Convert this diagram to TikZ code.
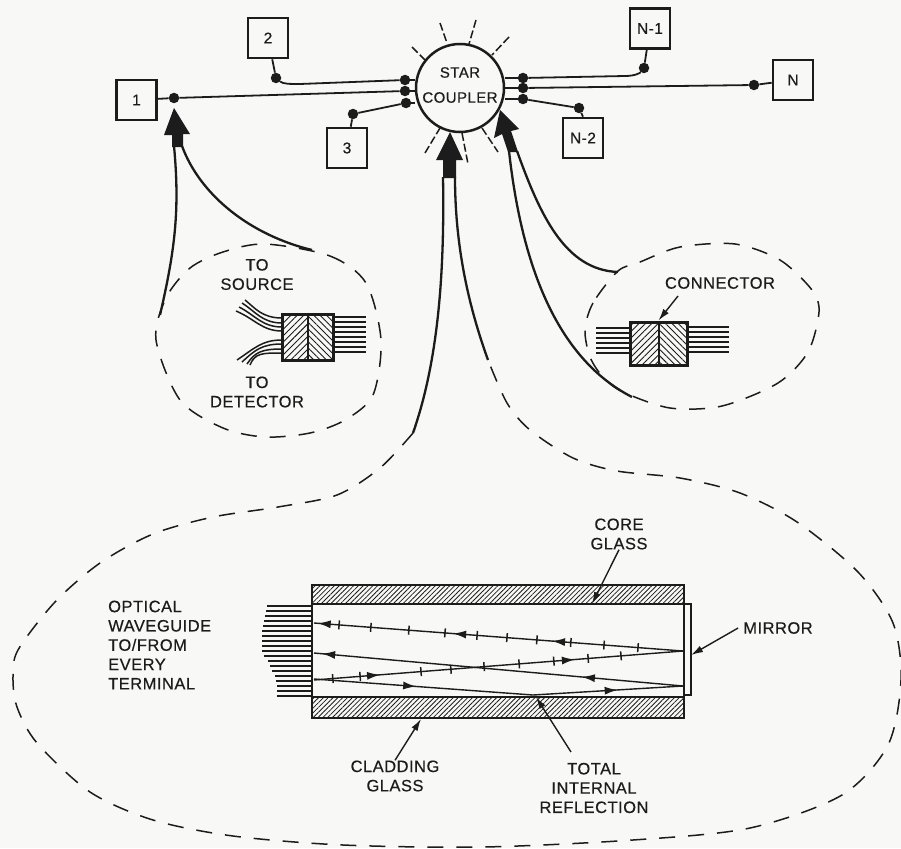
\documentclass[tikz,border=0pt]{standalone}
\usepackage{fontspec}
\setmainfont[LetterSpace=3,FakeBold=0.4]{Liberation Sans}
\usetikzlibrary{arrows.meta,patterns.meta,decorations.markings}
\definecolor{paper}{HTML}{F8F8F6}
\definecolor{inkc}{HTML}{1C1C1C}
\begin{document}
\begin{tikzpicture}[x=1pt, y=-1pt, >={Latex[length=12pt,width=7pt]}, color=inkc,
  termbox/.style={draw, line width=2.6pt, minimum size=40pt, inner sep=0pt, font=\fontsize{15.5}{18}\selectfont},
  junc/.style={circle, fill, inner sep=0pt, minimum size=10.5pt},
  wire/.style={line width=1.8pt},
  guide/.style={line width=2.3pt},
  dashline/.style={line width=1.5pt, dash pattern=on 16pt off 13pt},
  glowdash/.style={line width=1.5pt, dash pattern=on 8pt off 3pt},
  caption/.style={align=center, font=\fontsize{16.5}{19.3}\selectfont, inner sep=0pt},
  leader/.style={line width=1.4pt, ->},
  fibre/.style={line width=1.5pt},
  thinfibre/.style={line width=1.2pt},
  connbox/.style={draw, line width=3pt, inner sep=0pt},
  hatchne/.style={pattern={Lines[angle=45,distance=4.5pt,line width=.9pt]}, pattern color=inkc},
  hatchnw/.style={pattern={Lines[angle=-45,distance=4.5pt,line width=.9pt]}, pattern color=inkc},
  hatchfine/.style={pattern={Lines[angle=45,distance=3.4pt,line width=.8pt]}, pattern color=inkc},
  ray/.style={line width=1.4pt},
  head at/.style={postaction={decorate, decoration={markings, mark=at position #1 with {\arrow{Latex[length=13pt,width=8pt]}}}}},
  tick at/.style={postaction={decorate, decoration={markings, mark=at position #1 with {\draw[line width=1.5pt] (0,-4.5) -- (0,4.5);}}}}]
\fill[paper] (0,0) rectangle (901,848);
\useasboundingbox (0,0) rectangle (901,848);
% star coupler and terminals
\node[circle, draw, line width=2.5pt, minimum size=88pt, inner sep=0pt] (star) at (460,88) {};
\node[caption, font=\fontsize{15}{25}\selectfont] (starlab) at (460,85) {STAR\\COUPLER};
\node[termbox] (box1) at (136.5,100) {1};
\node[termbox] (box2) at (268,38) {2};
\node[termbox] (box3) at (347,148) {3};
\node[termbox] (boxn1) at (650,28.5) {N-1};
\node[termbox] (boxn) at (793,80) {N};
\node[termbox] (boxn2) at (583,138) {N-2};
\node[junc] (dot1) at (174,98) {};
\node[junc] (dot2) at (276,78) {};
\node[junc] (dot3) at (353,114) {};
\node[junc] (dotn1) at (644,68) {};
\node[junc] (dotn) at (754,85) {};
\node[junc] (dotn2) at (579,108) {};
\node[junc] (jl1) at (405,80) {};
\node[junc] (jl2) at (405,91) {};
\node[junc] (jl3) at (406,103) {};
\node[junc] (jr1) at (523,78) {};
\node[junc] (jr2) at (523,88) {};
\node[junc] (jr3) at (523,99) {};
\draw[wire] (box1) -- (dot1) -- (jl2);
\draw[wire] (box2) -- (dot2) .. controls (283,84) and (290,84) .. (300,84) -- (jl1);
\draw[wire] (box3) -- (dot3) -- (jl3);
\draw[wire] (boxn1) -- (dotn1) .. controls (640,73) and (635,76) .. (625,76) -- (jr1);
\draw[wire] (boxn) -- (dotn) -- (jr2);
\draw[wire] (boxn2.north) -- (dotn2) -- (jr3);
\foreach \j in {jl1,jl2,jl3} \draw[wire] (\j) -- (\j -| star.west);
\foreach \j in {jr1,jr2,jr3} \draw[wire] (\j) -- (\j -| star.east);
% glow around the coupler
\draw[glowdash] (440,23) -- (447,43);
\draw[glowdash] (412,47) -- (425,60);
\draw[glowdash] (425,153) -- (440,128);
\draw[glowdash] (476,20) -- (469,44);
\draw[glowdash] (509,37) -- (492,55);
\draw[glowdash] (462,133) -- (468,164);
\draw[glowdash] (482,128) -- (498,152);
% big arrows
\fill (174,108) -- (190,134) -- (183,134) -- (183,147) -- (172,147) -- (172,135) -- (164,135) -- cycle;
\fill (450,132) -- (463,160) -- (456,160) -- (456,178) -- (443,178) -- (443,160) -- (436,160) -- cycle;
\fill (500,110) -- (519,129) -- (511,131) -- (518,152) -- (508,152) -- (502,134) -- (494,138) -- cycle;
\draw[guide] (174,146) .. controls (180,210) and (175,250) .. (160,315);
\draw[guide] (182,146) .. controls (200,195) and (250,235) .. (312,250);
\draw[guide] (443,177) .. controls (445,290) and (435,370) .. (413,433);
\draw[guide] (455,177) .. controls (455,250) and (470,310) .. (488,360);
\draw[guide] (509,151) .. controls (520,250) and (550,355) .. (632,397);
\draw[guide] (517,151) .. controls (540,215) and (565,270) .. (618,272);
% dashed blow-ups
\draw[dashline] plot[smooth cycle] coordinates {(265,244) (330,256) (366,283) (381,340) (373,395) (345,420) (310,433) (265,437) (223,428) (180,400) (156,340) (166,298) (190,268) (223,252)};
\draw[dashline] plot[smooth cycle] coordinates {(618,271) (593,303) (585,330) (590,357) (603,377) (623,392) (670,408) (722,406) (778,383) (808,352) (819,312) (812,290) (780,260) (735,244) (680,247) (640,262)};
\draw[dashline] plot[smooth] coordinates {(413,433) (380,468) (337,495) (278,507) (213,517) (153,534) (100,563) (55,602) (18,650) (13,677) (17,707) (37,743) (90,792) (153,820) (233,836) (343,845) (483,847) (633,840) (750,828) (842,795) (888,745) (901,680) (893,623) (858,572) (797,522) (740,493) (680,478) (617,471) (573,458) (530,430) (507,403) (488,360)};
% left connector
\draw[hatchne] (282,314) rectangle (308,360);
\draw[hatchnw] (308,314) rectangle (333,360);
\node[connbox, minimum width=51pt, minimum height=46pt] (lconn) at (307.5,337) {};
\draw[line width=2pt] (lconn.north) -- (lconn.south);
\foreach \y in {317,322,327,332,337,342,347,352} \draw[fibre] (333,\y) -- (366,\y);
\foreach \y/\ex/\ey in {318/245/300,323/242/303,327/239/307,331/236/311} \draw[fibre] (282,\y) .. controls (262,\y) and (255,{\ey+8}) .. (\ex,\ey);
\foreach \y/\ex/\ey in {340/237/360,344/242/362,349/247/364,353/250/365} \draw[fibre] (282,\y) .. controls (262,\y) and (255,{\ey-12}) .. (\ex,\ey);
\node[caption] (source) at (257,274.5) {TO\\SOURCE};
\node[caption] (detector) at (257,392) {TO\\DETECTOR};
% right connector
\draw[hatchne] (630,322) rectangle (658,365);
\draw[hatchnw] (658,322) rectangle (687,365);
\node[connbox, minimum width=57pt, minimum height=43pt] (rconn) at (658.5,343.5) {};
\draw[line width=2pt] (rconn.north) -- (rconn.south);
\foreach \y in {328,333,338,343,348,353} \draw[fibre] (596,\y) -- (630,\y);
\foreach \y in {327,332,337,342,347,352} \draw[fibre] (687,\y) -- (729,\y);
\node[caption] (connlab) at (720,283) {CONNECTOR};
\coordinate (connstart) at (678,296);
\draw[leader] (connstart) -- (rconn.north);
% waveguide
\foreach \y/\x in {606/267,611/266,616/265,621/264,626/263,631/262,636/262,641/262,646/262,651/262,656/264,661/268,666/270,671/272,676/275,681/276,686/277,691/277,696/277} \draw[thinfibre] (\x,\y) -- (312,\y);
\draw[line width=2.6pt, hatchfine] (312,585) rectangle (684,604);
\draw[line width=2.6pt, hatchfine] (312,697) rectangle (684,718);
\draw[line width=2.6pt] (312,604) -- (312,697);
\draw[line width=1.4pt] (684,604) rectangle (691,695);
\coordinate (a0) at (683,651);
\coordinate (b0) at (314,680);
\coordinate (c0) at (683,686);
\coordinate (d0) at (314,679);
\coordinate (bounce) at (533,695);
\coordinate (atop) at (314,623);
\coordinate (ctop) at (314,653);
\draw[ray, tick at/.list={.122,.214,.304,.396,.477,.558,.645,.743,.846,.932}, head at/.list={.355,.623,.99}] (a0) -- (atop);
\draw[ray, tick at/.list={.051,.125,.29,.371,.461,.556,.65,.743,.832}, head at/.list={.179,.707}] (b0) -- (a0);
\draw[ray, head at/.list={.274,.978}] (c0) -- (ctop);
\draw[ray, head at/.list={.277,.823}] (d0) -- (bounce) -- (c0);
\node[caption] (corelab) at (619,534) {CORE\\GLASS};
\coordinate (coretip) at (592,604);
\draw[leader] (corelab.south) -- (coretip);
\node[caption, inner sep=5pt] (mirrorlab) at (778,628) {MIRROR};
\coordinate (mirrortip) at (691,655);
\draw[leader] (mirrorlab.west) -- (mirrortip);
\node[caption, align=left, anchor=west] (waveguidelab) at (108,645) {OPTICAL\\WAVEGUIDE\\TO/FROM\\EVERY\\TERMINAL};
\node[caption] (claddinglab) at (395,776) {CLADDING\\GLASS};
\coordinate (claddingtip) at (421,719);
\draw[leader] (claddinglab.north) -- (claddingtip);
\node[caption] (reflectlab) at (594,788) {TOTAL\\INTERNAL\\REFLECTION};
\coordinate (reflectstart) at (571,752);
\coordinate (reflecttip) at (536,697);
\draw[leader] (reflectstart) -- (reflecttip);
\end{tikzpicture}
\end{document}
